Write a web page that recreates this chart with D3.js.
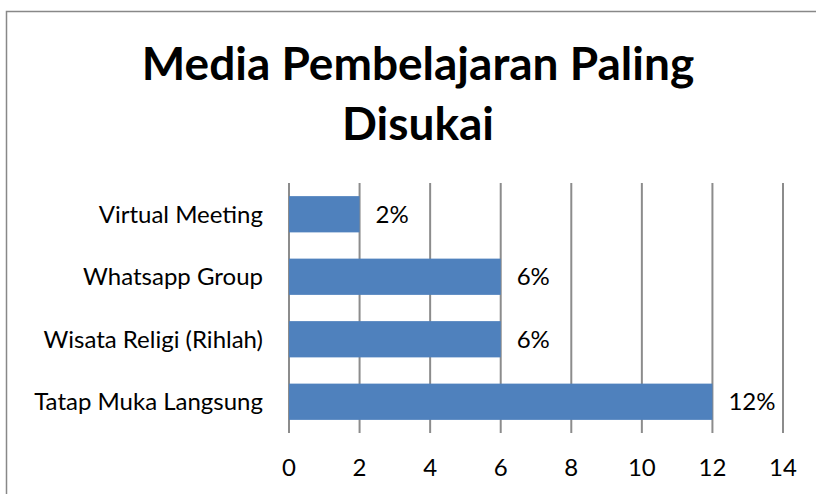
<!DOCTYPE html>
<html><head><meta charset="utf-8">
<script src="https://cdn.jsdelivr.net/npm/d3@7"></script>
<style>body{margin:0;background:#fff}svg{display:block}</style>
</head><body>
<svg id="c" width="816" height="494"></svg>
<script>
const categories = ["Virtual Meeting", "Whatsapp Group", "Wisata Religi (Rihlah)", "Tatap Muka Langsung"];
const values = [2, 6, 6, 12];
const valueLabels = ["2%", "6%", "6%", "12%"];
const ticks = [0, 2, 4, 6, 8, 10, 12, 14];
const titleLines = ["Media Pembelajaran Paling", "Disukai"];

const svg = d3.select("#c");
const font = "Lato, 'Open Sans', sans-serif";
svg.append("rect").attr("x", 6.5).attr("y", 11.5).attr("width", 900).attr("height", 600)
  .attr("fill", "#fff").attr("stroke", "#888").attr("stroke-width", 1.5);

const x = d3.scaleLinear().domain([0, 14]).range([289, 783]);
const y = d3.scaleBand().domain(categories).range([183, 433]).paddingInner(0.42).paddingOuter(0.21);

svg.append("g").selectAll("line").data(ticks).join("line")
  .attr("x1", d => x(d)).attr("x2", d => x(d)).attr("y1", 183).attr("y2", 433)
  .attr("stroke", "#8c8c8c").attr("stroke-width", 2);

svg.append("g").selectAll("rect").data(values).join("rect")
  .attr("x", x(0)).attr("y", (d, i) => y(categories[i]))
  .attr("width", d => x(d) - x(0)).attr("height", y.bandwidth())
  .attr("fill", "#4F81BD");

svg.append("g").selectAll("text").data(values).join("text")
  .attr("x", d => x(d) + 16).attr("y", (d, i) => y(categories[i]) + y.bandwidth() / 2)
  .attr("dy", "0.35em").attr("font-family", font).attr("font-size", 24).attr("fill", "#000")
  .text((d, i) => valueLabels[i]);

svg.append("g").selectAll("text").data(categories).join("text")
  .attr("x", 263).attr("y", d => y(d) + y.bandwidth() / 2).attr("dy", "0.35em")
  .attr("text-anchor", "end").attr("font-family", font).attr("font-size", 24).attr("fill", "#000")
  .text(d => d);

svg.append("g").selectAll("text").data(ticks).join("text")
  .attr("x", d => x(d)).attr("y", 468).attr("dy", "0.35em")
  .attr("text-anchor", "middle").attr("font-family", font).attr("font-size", 24).attr("fill", "#000")
  .text(d => d);

svg.append("g").selectAll("text").data(titleLines).join("text")
  .attr("x", 418).attr("y", (d, i) => 80 + i * 60)
  .attr("text-anchor", "middle").attr("font-family", font).attr("font-weight", "bold")
  .attr("font-size", 46).attr("fill", "#000").text(d => d);
</script>
</body></html>
